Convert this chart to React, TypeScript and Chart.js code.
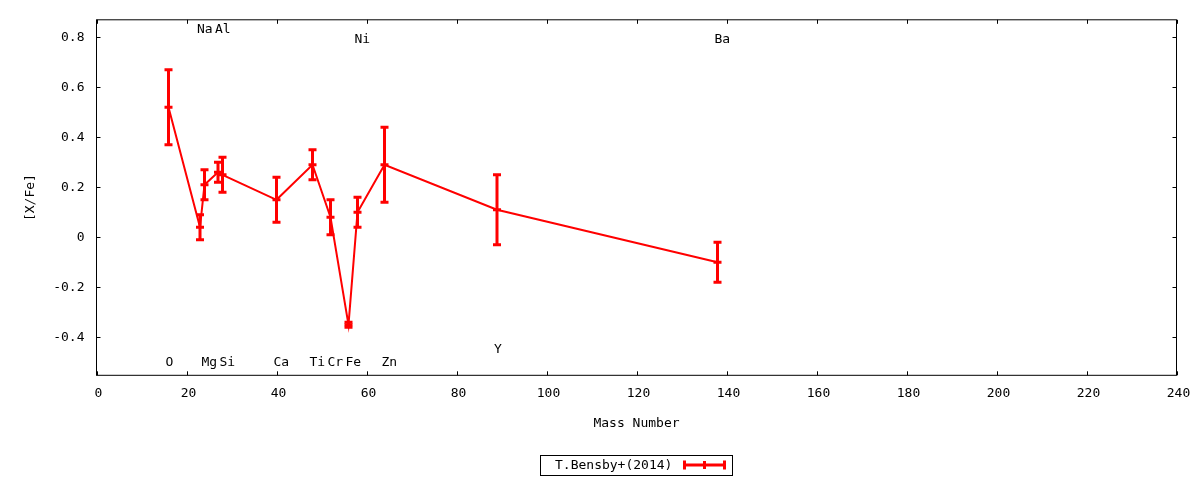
import React, { useEffect, useRef } from "react";
import { Chart, registerables } from "chart.js";

Chart.register(...registerables);

// ---- Data ----
const elements = ["O", "Na", "Mg", "Al", "Si", "Ca", "Ti", "Cr", "Fe", "Ni", "Zn", "Y", "Ba"];
const massNumbers = [16, 23, 24, 27, 28, 40, 48, 52, 56, 58, 64, 89, 138];
const abundances = [0.52, 0.04, 0.21, 0.26, 0.25, 0.15, 0.29, 0.08, -0.35, 0.1, 0.29, 0.11, -0.1];
const errors = [0.15, 0.05, 0.06, 0.04, 0.07, 0.09, 0.06, 0.07, 0.01, 0.06, 0.15, 0.14, 0.08];
const labelY = [-0.5, 0.83, -0.5, 0.83, -0.5, -0.5, -0.5, -0.5, -0.5, 0.79, -0.5, -0.45, 0.79];
const xTicks = [0, 20, 40, 60, 80, 100, 120, 140, 160, 180, 200, 220, 240];
const yTicks = [-0.4, -0.2, 0, 0.2, 0.4, 0.6, 0.8];
const seriesName = "T.Bensby+(2014)";
const xTitle = "Mass Number";
const yTitle = "[X/Fe]";

const FONT = "'DejaVu Sans Mono', monospace";
const RED = "#ff0000";

const decorPlugin = {
  id: "decor",
  afterDatasetsDraw(chart: any) {
    const ctx = chart.ctx;
    const { left, right, top, bottom } = chart.chartArea;
    const xs = chart.scales.x;
    const ys = chart.scales.y;
    ctx.save();

    // error bars
    ctx.strokeStyle = RED;
    ctx.lineWidth = 3;
    ctx.lineCap = "butt";
    massNumbers.forEach((m, i) => {
      const px = xs.getPixelForValue(m);
      const yHi = ys.getPixelForValue(abundances[i] + errors[i]);
      const yLo = ys.getPixelForValue(abundances[i] - errors[i]);
      ctx.beginPath();
      ctx.moveTo(px, yHi);
      ctx.lineTo(px, yLo);
      ctx.moveTo(px - 4, yHi);
      ctx.lineTo(px + 4, yHi);
      ctx.moveTo(px - 4, yLo);
      ctx.lineTo(px + 4, yLo);
      ctx.stroke();
    });

    // frame
    ctx.strokeStyle = "#000";
    ctx.lineWidth = 1;
    ctx.strokeRect(left, top, right - left, bottom - top);

    // inner ticks (mirrored)
    ctx.beginPath();
    xs.ticks.forEach((t: any) => {
      const px = Math.round(xs.getPixelForValue(t.value)) + 0.5;
      ctx.moveTo(px, bottom);
      ctx.lineTo(px, bottom - 4);
      ctx.moveTo(px, top);
      ctx.lineTo(px, top + 4);
    });
    ys.ticks.forEach((t: any) => {
      const py = Math.round(ys.getPixelForValue(t.value)) + 0.5;
      ctx.moveTo(left, py);
      ctx.lineTo(left + 4, py);
      ctx.moveTo(right, py);
      ctx.lineTo(right - 4, py);
    });
    ctx.stroke();

    // element labels
    ctx.fillStyle = "#000";
    ctx.font = `13px ${FONT}`;
    ctx.textAlign = "left";
    ctx.textBaseline = "middle";
    elements.forEach((el, i) => {
      const px = xs.getPixelForValue(massNumbers[i]);
      const py = ys.getPixelForValue(labelY[i]);
      ctx.fillText(el, px - 3, py);
    });

    // axis titles
    ctx.textAlign = "center";
    ctx.fillText(xTitle, (left + right) / 2, 424);
    ctx.save();
    ctx.translate(31, (top + bottom) / 2);
    ctx.rotate(-Math.PI / 2);
    ctx.fillText(yTitle, 0, 0);
    ctx.restore();

    // legend
    ctx.strokeStyle = "#000";
    ctx.lineWidth = 1;
    ctx.strokeRect(540.5, 455.5, 192, 20);
    ctx.textAlign = "left";
    ctx.fillText(seriesName, 555, 465.5);
    ctx.strokeStyle = RED;
    ctx.lineWidth = 3;
    ctx.beginPath();
    ctx.moveTo(683, 465);
    ctx.lineTo(726, 465);
    ctx.moveTo(684.5, 460.5);
    ctx.lineTo(684.5, 469.5);
    ctx.moveTo(704.5, 461);
    ctx.lineTo(704.5, 469);
    ctx.moveTo(724.5, 460.5);
    ctx.lineTo(724.5, 469.5);
    ctx.stroke();

    ctx.restore();
  },
};

export default function App() {
  const ref = useRef<HTMLCanvasElement | null>(null);
  useEffect(() => {
    if (!ref.current) return;
    const chart = new Chart(ref.current, {
      type: "line",
      data: {
        datasets: [
          {
            label: seriesName,
            data: massNumbers.map((m, i) => ({ x: m, y: abundances[i] })),
            borderColor: RED,
            backgroundColor: RED,
            borderWidth: 2,
            pointStyle: "line",
            pointRadius: 4,
            pointBorderWidth: 3,
            pointBorderColor: RED,
            tension: 0,
            fill: false,
          },
        ],
      },
      options: {
        animation: false,
        responsive: false,
        devicePixelRatio: 1,
        layout: { autoPadding: false, padding: { top: 17.3, right: 23.5, left: 0, bottom: 0 } },
        plugins: { legend: { display: false }, tooltip: { enabled: false } },
        scales: {
          x: {
            type: "linear",
            min: 0,
            max: 240,
            grid: { display: false, drawTicks: false },
            border: { display: false },
            afterBuildTicks: (s: any) => {
              s.ticks = xTicks.map((v) => ({ value: v }));
            },
            afterFit: (s: any) => {
              s.height = 104.7;
            },
            ticks: {
              color: "#000",
              font: { family: FONT, size: 13 },
              padding: 11,
              labelOffset: 2,
              maxRotation: 0,
              autoSkip: false,
              callback: (v: any) => String(v),
            },
          },
          y: {
            type: "linear",
            min: -0.552,
            max: 0.87,
            grid: { display: false, drawTicks: false },
            border: { display: false },
            afterBuildTicks: (s: any) => {
              s.ticks = yTicks.map((v) => ({ value: v }));
            },
            afterFit: (s: any) => {
              s.width = 96.5;
            },
            ticks: {
              color: "#000",
              font: { family: FONT, size: 13 },
              padding: 12,
              autoSkip: false,
              callback: (v: any) => (Math.abs(v) < 1e-9 ? "0" : Number(v).toFixed(1)),
            },
          },
        },
      },
      plugins: [decorPlugin],
    });
    return () => chart.destroy();
  }, []);
  return (
    <div style={{ position: "absolute", left: 0, top: 0, width: 1200, height: 480, background: "#fff" }}>
      <canvas ref={ref} width={1200} height={480} style={{ display: "block" }} />
    </div>
  );
}
